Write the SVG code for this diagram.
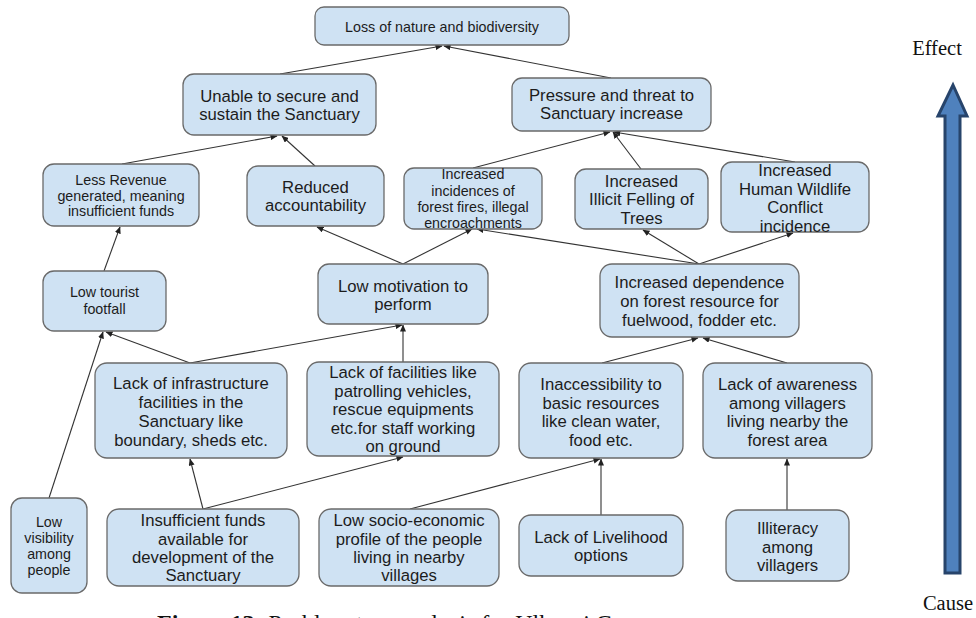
<svg xmlns="http://www.w3.org/2000/svg" width="976" height="618" viewBox="0 0 976 618">
  <style>
    .box { fill: #cfe2f3; stroke: #6a6a6a; stroke-width: 1.3; }
    .t { font-family: "Liberation Sans", Arial, sans-serif; fill: #1c1c1c; text-anchor: middle; }
    .lg { font-size: 16.7px; }
    .sm { font-size: 14.3px; }
    .edge { stroke: #333333; stroke-width: 1.1; fill: none; marker-end: url(#arr); }
    .serif { font-family: "Liberation Serif", "Times New Roman", serif; fill: #111111; }
  </style>
  <defs>
    <marker id="arr" markerUnits="userSpaceOnUse" markerWidth="7" markerHeight="6" refX="6.5" refY="3" orient="auto">
      <path d="M0,0 L7,3 L0,6 Z" fill="#222222"/>
    </marker>
  </defs>

  <!-- connectors: cause -> effect -->
  <g id="connectors">
    <line class="edge" x1="280" y1="74" x2="442" y2="46"/>
    <line class="edge" x1="611" y1="78" x2="444" y2="46"/>
    <line class="edge" x1="122" y1="164" x2="277" y2="136"/>
    <line class="edge" x1="315" y1="166" x2="282" y2="136"/>
    <line class="edge" x1="473" y1="168" x2="610" y2="132"/>
    <line class="edge" x1="641" y1="169" x2="613" y2="132"/>
    <line class="edge" x1="795" y1="162" x2="614" y2="132"/>
    <line class="edge" x1="104" y1="271" x2="120" y2="227"/>
    <line class="edge" x1="403" y1="264" x2="317" y2="227"/>
    <line class="edge" x1="403" y1="264" x2="472" y2="229"/>
    <line class="edge" x1="699" y1="264" x2="477" y2="229"/>
    <line class="edge" x1="699" y1="264" x2="643" y2="230"/>
    <line class="edge" x1="699" y1="264" x2="793" y2="233"/>
    <line class="edge" x1="190" y1="363" x2="106" y2="332"/>
    <line class="edge" x1="190" y1="363" x2="402" y2="325"/>
    <line class="edge" x1="403" y1="362" x2="403" y2="325"/>
    <line class="edge" x1="602" y1="363" x2="698" y2="338"/>
    <line class="edge" x1="787" y1="363" x2="703" y2="338"/>
    <line class="edge" x1="49" y1="498" x2="103" y2="332"/>
    <line class="edge" x1="203" y1="509" x2="190" y2="459"/>
    <line class="edge" x1="203" y1="509" x2="403" y2="457"/>
    <line class="edge" x1="410" y1="509" x2="600" y2="459"/>
    <line class="edge" x1="601" y1="515" x2="601" y2="459"/>
    <line class="edge" x1="787" y1="510" x2="787" y2="459"/>
  </g>

  <g id="n-loss">
    <rect class="box" x="315" y="7" width="254" height="38" rx="9"/>
    <text class="t sm" x="442" y="32">Loss of nature and biodiversity</text>
  </g>
  <g id="n-unable">
    <rect class="box" x="183" y="74" width="193" height="61" rx="11"/>
    <text class="t lg"><tspan x="279.5" y="102">Unable to secure and</tspan><tspan x="279.5" y="120">sustain the Sanctuary</tspan></text>
  </g>
  <g id="n-pressure">
    <rect class="box" x="512" y="78" width="199" height="53" rx="10"/>
    <text class="t lg"><tspan x="611.5" y="101">Pressure and threat to</tspan><tspan x="611.5" y="119">Sanctuary increase</tspan></text>
  </g>
  <g id="n-revenue">
    <rect class="box" x="43" y="164" width="156" height="62" rx="11"/>
    <text class="t sm"><tspan x="121" y="185">Less Revenue</tspan><tspan x="121" y="201">generated, meaning</tspan><tspan x="121" y="216">insufficient funds</tspan></text>
  </g>
  <g id="n-accountability">
    <rect class="box" x="247" y="166" width="137" height="60" rx="11"/>
    <text class="t lg"><tspan x="315.5" y="193">Reduced</tspan><tspan x="315.5" y="211">accountability</tspan></text>
  </g>
  <g id="n-fires">
    <rect class="box" x="404" y="168" width="138" height="61" rx="10"/>
    <text class="t sm"><tspan x="473" y="179">Increased</tspan><tspan x="473" y="195.5">incidences of</tspan><tspan x="473" y="212">forest fires, illegal</tspan><tspan x="473" y="228">encroachments</tspan></text>
  </g>
  <g id="n-felling">
    <rect class="box" x="575" y="169" width="133" height="60" rx="11"/>
    <text class="t lg"><tspan x="641.5" y="187">Increased</tspan><tspan x="641.5" y="205">Illicit Felling of</tspan><tspan x="641.5" y="224">Trees</tspan></text>
  </g>
  <g id="n-conflict">
    <rect class="box" x="721" y="162" width="148" height="70" rx="11"/>
    <text class="t lg"><tspan x="795" y="176">Increased</tspan><tspan x="795" y="195">Human Wildlife</tspan><tspan x="795" y="213">Conflict</tspan><tspan x="795" y="232">incidence</tspan></text>
  </g>
  <g id="n-tourist">
    <rect class="box" x="43" y="271" width="123" height="60" rx="11"/>
    <text class="t sm"><tspan x="104.5" y="297">Low tourist</tspan><tspan x="104.5" y="314">footfall</tspan></text>
  </g>
  <g id="n-motivation">
    <rect class="box" x="318" y="264" width="170" height="60" rx="11"/>
    <text class="t lg"><tspan x="403" y="292">Low motivation to</tspan><tspan x="403" y="310">perform</tspan></text>
  </g>
  <g id="n-dependence">
    <rect class="box" x="600" y="264" width="199" height="73" rx="12"/>
    <text class="t lg"><tspan x="699.5" y="288">Increased dependence</tspan><tspan x="699.5" y="307">on forest resource for</tspan><tspan x="699.5" y="326">fuelwood, fodder etc.</tspan></text>
  </g>
  <g id="n-infrastructure">
    <rect class="box" x="95" y="363" width="192" height="95" rx="12"/>
    <text class="t lg"><tspan x="191" y="389">Lack of infrastructure</tspan><tspan x="191" y="408">facilities in the</tspan><tspan x="191" y="427">Sanctuary like</tspan><tspan x="191" y="446">boundary, sheds etc.</tspan></text>
  </g>
  <g id="n-facilities">
    <rect class="box" x="307" y="362" width="192" height="94" rx="12"/>
    <text class="t lg"><tspan x="403" y="378">Lack of facilities like</tspan><tspan x="403" y="397">patrolling vehicles,</tspan><tspan x="403" y="415">rescue equipments</tspan><tspan x="403" y="434">etc.for staff working</tspan><tspan x="403" y="452">on ground</tspan></text>
  </g>
  <g id="n-inaccessibility">
    <rect class="box" x="519" y="363" width="164" height="95" rx="12"/>
    <text class="t lg"><tspan x="601" y="390">Inaccessibility to</tspan><tspan x="601" y="408.5">basic resources</tspan><tspan x="601" y="427">like clean water,</tspan><tspan x="601" y="445.5">food etc.</tspan></text>
  </g>
  <g id="n-awareness">
    <rect class="box" x="703" y="363" width="169" height="95" rx="12"/>
    <text class="t lg"><tspan x="787.5" y="390">Lack of awareness</tspan><tspan x="787.5" y="408.5">among villagers</tspan><tspan x="787.5" y="427">living nearby the</tspan><tspan x="787.5" y="445.5">forest area</tspan></text>
  </g>
  <g id="n-visibility">
    <rect class="box" x="11" y="498" width="76" height="95" rx="11"/>
    <text class="t sm"><tspan x="49" y="527">Low</tspan><tspan x="49" y="543">visibility</tspan><tspan x="49" y="559">among</tspan><tspan x="49" y="575">people</tspan></text>
  </g>
  <g id="n-funds">
    <rect class="box" x="107" y="509" width="192" height="77" rx="12"/>
    <text class="t lg"><tspan x="203" y="526">Insufficient funds</tspan><tspan x="203" y="545">available for</tspan><tspan x="203" y="563">development of the</tspan><tspan x="203" y="581">Sanctuary</tspan></text>
  </g>
  <g id="n-socio">
    <rect class="box" x="319" y="509" width="180" height="77" rx="12"/>
    <text class="t lg"><tspan x="409" y="526">Low socio-economic</tspan><tspan x="409" y="545">profile of the people</tspan><tspan x="409" y="563">living in nearby</tspan><tspan x="409" y="581">villages</tspan></text>
  </g>
  <g id="n-livelihood">
    <rect class="box" x="519" y="515" width="164" height="61" rx="12"/>
    <text class="t lg"><tspan x="601" y="543">Lack of Livelihood</tspan><tspan x="601" y="561">options</tspan></text>
  </g>
  <g id="n-illiteracy">
    <rect class="box" x="726" y="510" width="123" height="71" rx="12"/>
    <text class="t lg"><tspan x="787.5" y="534">Illiteracy</tspan><tspan x="787.5" y="553">among</tspan><tspan x="787.5" y="571">villagers</tspan></text>
  </g>

  <!-- cause-to-effect scale on the right -->
  <g id="scale">
    <text class="serif" x="937" y="55" font-size="20.5" text-anchor="middle">Effect</text>
    <polygon points="953,85 967,116 960,116 960,573 945,573 945,116 938,116" fill="#4f81bd" stroke="#27446b" stroke-width="3" stroke-linejoin="miter"/>
    <text class="serif" x="948" y="610" font-size="20.5" text-anchor="middle">Cause</text>
  </g>

  <!-- figure caption, running off the bottom edge -->
  <text class="serif" x="157" y="631" font-size="24"><tspan font-weight="bold">Figure 13:</tspan> Problem tree analysis for Ulhasni C</text>
</svg>
